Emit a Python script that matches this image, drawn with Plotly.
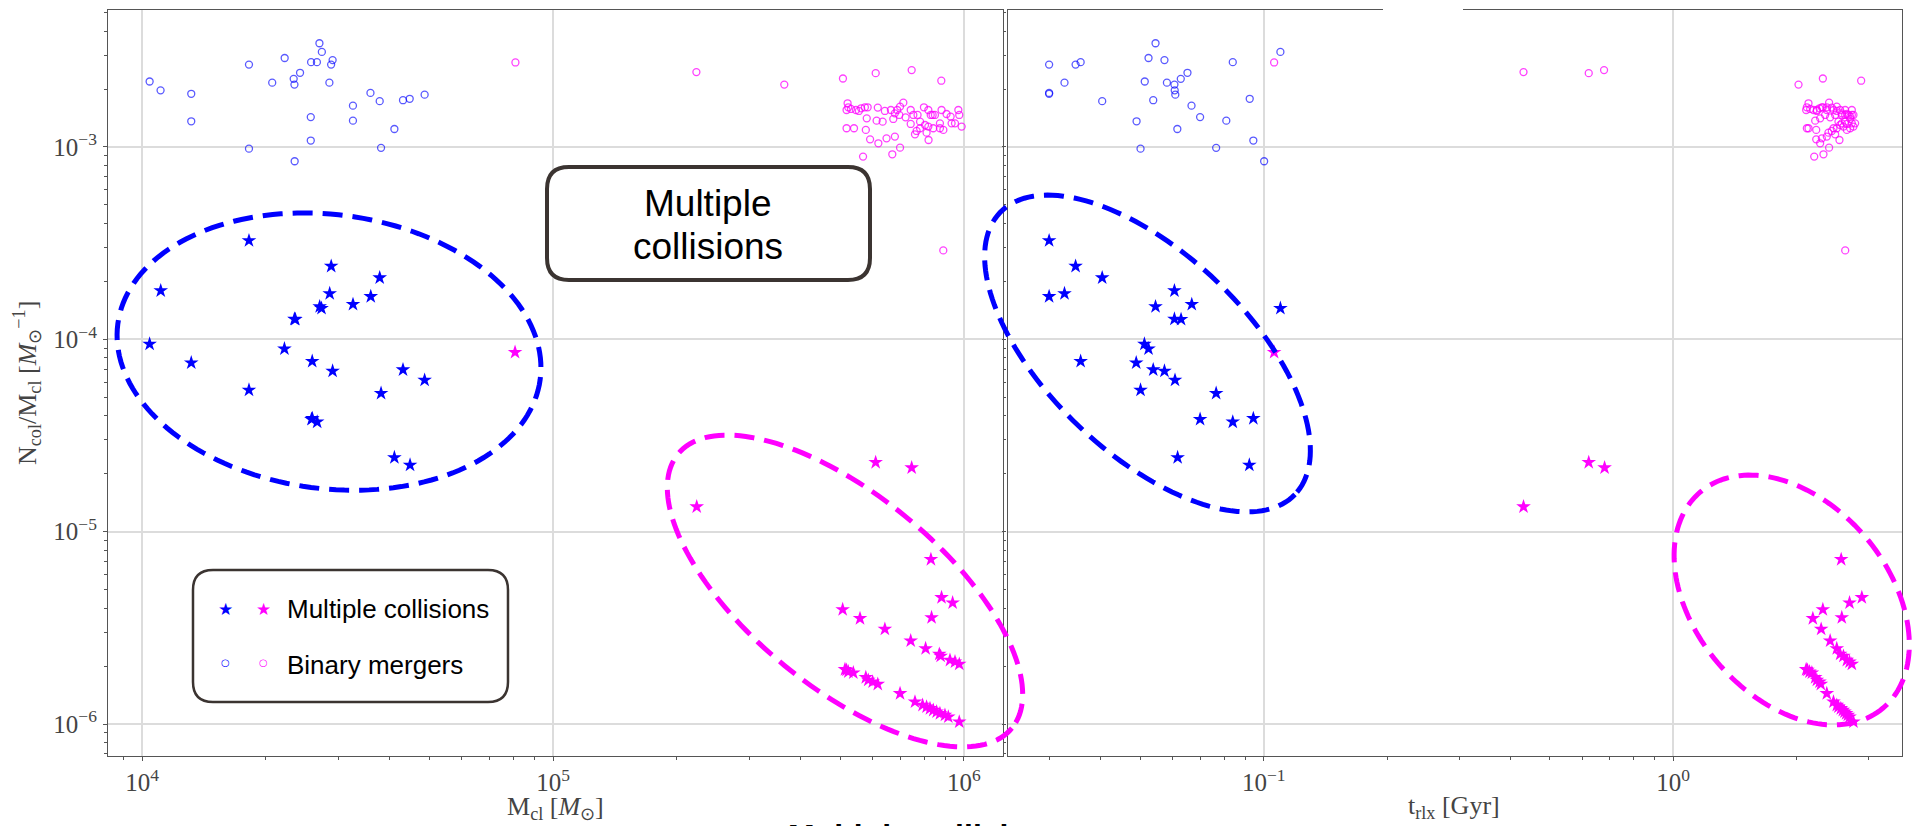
import numpy as np
import plotly.graph_objects as go

W, H = 1915, 826

# ---------------- data ----------------
# Blue clusters: binary mergers (open circles)
blue_circle_M = [10430, 11090, 13170, 13170, 18200, 18200, 22230, 20730, 23380, 23480,
                 24230, 23510, 27010, 27380, 25780, 26630, 29080, 28840, 28560, 25730,
                 25730, 32590, 32590, 35950, 37860, 38150, 41110, 43140, 44790, 48700]
blue_circle_N = [2.19e-3, 1.97e-3, 1.89e-3, 1.36e-3, 2.68e-3, 0.98e-3, 2.90e-3, 2.16e-3, 2.26e-3, 2.11e-3,
                 2.43e-3, 0.843e-3, 3.46e-3, 3.12e-3, 2.76e-3, 2.76e-3, 2.83e-3, 2.68e-3, 2.16e-3, 1.43e-3,
                 1.08e-3, 1.64e-3, 1.37e-3, 1.91e-3, 1.73e-3, 0.99e-3, 1.24e-3, 1.75e-3, 1.78e-3, 1.87e-3]
blue_circle_t = [0.0512, 0.0606, 0.0299, 0.0489, 0.0299, 0.0500, 0.0523, 0.0326, 0.0627, 0.0605,
                 0.0651, 0.1002, 0.0544, 0.1098, 0.0357, 0.0840, 0.0572, 0.0347, 0.0580, 0.0699,
                 0.0943, 0.0666, 0.0810, 0.0299, 0.0403, 0.0765, 0.0615, 0.0537, 0.0924, 0.0608]

# Blue clusters: multiple collisions (stars)
blue_star_M = [18200, 11100, 28850, 37860, 28610, 27050, 27330, 32600, 36010, 23480,
               23600, 10430, 13170, 22200, 25940, 29080, 43140, 48700, 18200, 38150,
               25830, 25950, 26670, 41110, 44880]
blue_star_N = [3.26e-4, 1.79e-4, 2.40e-4, 2.09e-4, 1.73e-4, 1.48e-4, 1.45e-4, 1.52e-4, 1.67e-4, 1.275e-4,
               1.27e-4, 9.45e-5, 7.55e-5, 8.93e-5, 7.69e-5, 6.84e-5, 6.95e-5, 6.14e-5, 5.45e-5, 5.24e-5,
               3.84e-5, 3.88e-5, 3.72e-5, 2.43e-5, 2.22e-5]
blue_star_t = [0.0299, 0.0605, 0.0347, 0.0403, 0.0326, 0.0544, 0.1098, 0.0667, 0.0299, 0.0605,
               0.0628, 0.0511, 0.0488, 0.0523, 0.0357, 0.0572, 0.0537, 0.0607, 0.0500, 0.0765,
               0.0699, 0.0943, 0.0840, 0.0616, 0.0922]

# Magenta clusters: binary mergers (open circles)
mag_circle_M = [81000, 223300, 365400, 507600, 609800, 746000, 880800, 890600, 568100, 669300,
                521000, 523000, 518000, 531000, 546000, 555000, 562000, 574000, 583000, 617000,
                642000, 664000, 679000, 688000, 699000, 712000, 696000, 721000, 742000, 753000,
                771000, 782000, 799000, 819000, 830000, 839000, 850000, 882000, 907000, 928000,
                969000, 974000, 951000, 987000, 580000, 613000, 634000, 673000, 742000, 819000,
                842000, 874000, 782000, 804000, 767000, 760000, 811000, 820000, 518000, 540000,
                577000, 591000, 619000, 648000, 679000, 699000, 874000, 891000, 933000]
mag_circle_N = [2.75e-3, 2.45e-3, 2.11e-3, 2.27e-3, 2.42e-3, 2.51e-3, 2.21e-3, 2.90e-4, 0.891e-3, 0.916e-3,
                1.687e-3, 1.608e-3, 1.557e-3, 1.576e-3, 1.557e-3, 1.539e-3, 1.589e-3, 1.608e-3, 1.608e-3, 1.602e-3,
                1.539e-3, 1.557e-3, 1.496e-3, 1.557e-3, 1.621e-3, 1.700e-3, 1.467e-3, 1.426e-3, 1.557e-3, 1.467e-3,
                1.467e-3, 1.354e-3, 1.608e-3, 1.557e-3, 1.467e-3, 1.467e-3, 1.467e-3, 1.557e-3, 1.484e-3, 1.438e-3,
                1.557e-3, 1.467e-3, 1.327e-3, 1.276e-3, 1.409e-3, 1.370e-3, 1.354e-3, 1.398e-3, 1.317e-3, 1.276e-3,
                1.251e-3, 1.251e-3, 1.251e-3, 1.301e-3, 1.211e-3, 1.164e-3, 1.187e-3, 1.087e-3, 1.251e-3, 1.251e-3,
                1.226e-3, 1.096e-3, 1.045e-3, 1.109e-3, 1.132e-3, 0.992e-3, 1.327e-3, 1.226e-3, 1.327e-3]
mag_circle_t = [0.106, 0.431, 2.024, 2.321, 0.622, 0.678, 2.879, 2.632, 2.211, 2.329,
                2.141, 2.121, 2.113, 2.161, 2.202, 2.244, 2.278, 2.321, 2.373, 2.441,
                2.510, 2.558, 2.582, 2.631, 2.510, 2.404, 2.487, 2.418, 2.732, 2.351,
                2.681, 2.534, 2.308, 2.244, 2.582, 2.631, 2.732, 2.464, 2.656, 2.706,
                2.373, 2.757, 2.582, 2.757, 2.286, 2.223, 2.631, 2.706, 2.656, 2.606,
                2.510, 2.706, 2.464, 2.558, 2.441, 2.487, 2.395, 2.548, 2.121, 2.141,
                2.236, 2.236, 2.286, 2.308, 2.373, 2.404, 2.732, 2.656, 2.783]

# Magenta clusters: multiple collisions (stars)
mag_star_M = [80830, 223700, 609700, 746000, 831000, 882000, 938500, 834000, 506800, 558500,
              642000, 742000, 806600, 871000, 877600, 924600, 951000, 974000, 513400, 523000,
              518000, 538000, 577000, 585000, 599500, 617000, 699000, 760000, 793000, 811000,
              826700, 842000, 858000, 874000, 899000, 916000, 974000]
mag_star_N = [8.56e-5, 1.348e-5, 2.292e-5, 2.150e-5, 7.175e-6, 4.55e-6, 4.27e-6, 3.58e-6, 3.94e-6, 3.54e-6,
              3.116e-6, 2.71e-6, 2.47e-6, 2.31e-6, 2.255e-6, 2.149e-6, 2.107e-6, 2.049e-6, 1.922e-6, 1.869e-6,
              1.907e-6, 1.847e-6, 1.747e-6, 1.692e-6, 1.658e-6, 1.612e-6, 1.442e-6, 1.305e-6, 1.254e-6, 1.229e-6,
              1.205e-6, 1.181e-6, 1.158e-6, 1.135e-6, 1.113e-6, 1.090e-6, 1.027e-6]
mag_star_t = [0.106, 0.431, 0.622, 0.680, 2.573, 2.890, 2.697, 2.582, 2.321, 2.194,
              2.299, 2.418, 2.510, 2.558, 2.606, 2.656, 2.697, 2.732, 2.113, 2.153,
              2.129, 2.182, 2.223, 2.244, 2.278, 2.295, 2.373, 2.464, 2.510, 2.534,
              2.568, 2.597, 2.621, 2.646, 2.671, 2.697, 2.757]

# tick values / labels
x1_tickvals = [1e4, 1e5, 1e6]
x1_ticktext = ["10<sup>4</sup>", "10<sup>5</sup>", "10<sup>6</sup>"]
x2_tickvals = [1e-1, 1e0]
x2_ticktext = ["10<sup>−1</sup>", "10<sup>0</sup>"]
y_tickvals = [1e-6, 1e-5, 1e-4, 1e-3]
y_ticktext = ["10<sup>−6</sup>", "10<sup>−5</sup>", "10<sup>−4</sup>", "10<sup>−3</sup>"]

BLUE = "#0000ff"
MAG = "#ff00ff"

# ---------------- figure ----------------
fig = go.Figure()

circle_style = dict(symbol="circle-open", size=7, line=dict(width=1.3))
star_style = dict(symbol="star", size=11, line=dict(width=0))

panels = [("x", "y", blue_circle_M, blue_star_M, mag_circle_M, mag_star_M),
          ("x2", "y2", blue_circle_t, blue_star_t, mag_circle_t, mag_star_t)]
for xa, ya, bcx, bsx, mcx, msx in panels:
    fig.add_trace(go.Scatter(x=bcx, y=blue_circle_N, mode="markers", xaxis=xa, yaxis=ya,
                             marker=dict(color="rgba(0,0,255,0.65)", **circle_style), showlegend=False))
    fig.add_trace(go.Scatter(x=mcx, y=mag_circle_N, mode="markers", xaxis=xa, yaxis=ya,
                             marker=dict(color="rgba(255,0,255,0.75)", **circle_style), showlegend=False))
    fig.add_trace(go.Scatter(x=bsx, y=blue_star_N, mode="markers", xaxis=xa, yaxis=ya,
                             marker=dict(color=BLUE, **star_style), showlegend=False))
    fig.add_trace(go.Scatter(x=msx, y=mag_star_N, mode="markers", xaxis=xa, yaxis=ya,
                             marker=dict(color=MAG, **star_style), showlegend=False))


def minor_vals(e0, e1):
    return [k * 10.0 ** e for e in range(e0, e1) for k in range(2, 10)]


AXCOL = "#555555"
common = dict(type="log", showline=True, linecolor=AXCOL, linewidth=1.2, mirror=True,
              showgrid=True, gridcolor="#dcdcdc", gridwidth=1.5, zeroline=False,
              ticks="outside", ticklen=4, tickwidth=1.1, tickcolor=AXCOL,
              tickfont=dict(family="Liberation Serif", size=25, color="#444444"),
              tickmode="array")


def minor(e0, e1):
    return dict(tickmode="array", tickvals=minor_vals(e0, e1), ticks="outside",
                ticklen=3, tickwidth=1, tickcolor=AXCOL, showgrid=False)


fig.update_layout(
    width=W, height=H, margin=dict(l=0, r=0, t=0, b=0),
    paper_bgcolor="white", plot_bgcolor="white", showlegend=False,
    xaxis=dict(domain=[108 / W, 1003 / W], range=[3.917, 6.095], anchor="y",
               tickvals=x1_tickvals, ticktext=x1_ticktext, minor=minor(3, 7), **common),
    yaxis=dict(domain=[70 / H, 816 / H], range=[-6.166, -2.288], anchor="x",
               tickvals=y_tickvals, ticktext=y_ticktext, ticklabelstandoff=1,
               minor=minor(-7, -2), **common),
    xaxis2=dict(domain=[1007.5 / W, 1902 / W], range=[-1.626, 0.559], anchor="y2",
                tickvals=x2_tickvals, ticktext=x2_ticktext, minor=minor(-2, 1), **common),
    yaxis2=dict(domain=[70 / H, 816 / H], range=[-6.166, -2.288], anchor="x2",
                tickvals=y_tickvals, ticktext=y_ticktext, showticklabels=False,
                minor=minor(-7, -2), **common),
)


# ---------------- decorations (pixel geometry -> paper coords) ----------------
def P(x, y):
    return f"{x / W:.5f},{1 - y / H:.5f}"


def ellipse_path(cx, cy, a, b, theta_deg, n=160):
    th = np.radians(theta_deg)
    t = np.linspace(0, 2 * np.pi, n, endpoint=False)
    ex = cx + a * np.cos(t) * np.cos(th) - b * np.sin(t) * np.sin(th)
    ey = cy + a * np.cos(t) * np.sin(th) + b * np.sin(t) * np.cos(th)
    return "M " + " L ".join(P(x, y) for x, y in zip(ex, ey)) + " Z"


def rounded_rect(x0, y0, x1, y1, r):
    return (f"M {P(x0 + r, y0)} L {P(x1 - r, y0)} Q {P(x1, y0)} {P(x1, y0 + r)} "
            f"L {P(x1, y1 - r)} Q {P(x1, y1)} {P(x1 - r, y1)} "
            f"L {P(x0 + r, y1)} Q {P(x0, y1)} {P(x0, y1 - r)} "
            f"L {P(x0, y0 + r)} Q {P(x0, y0)} {P(x0 + r, y0)} Z")


ellipses = [
    (329, 351.6, 213, 137, 7.5, BLUE),
    (845, 591, 216, 96, 39.4, MAG),
    (1147.5, 353.5, 204, 100, 43.7, BLUE),
    (1791.7, 600, 141.5, 97, 49.8, MAG),
]
shapes = []
for cx, cy, a, b, th, col in ellipses:
    shapes.append(dict(type="path", xref="paper", yref="paper", layer="above",
                       path=ellipse_path(cx, cy, a, b, th),
                       line=dict(color=col, width=5, dash="20px,10px")))

BOXCOL = "#3b3431"
shapes.append(dict(type="path", xref="paper", yref="paper", layer="above",
                   path=rounded_rect(547, 167, 870, 280, 22),
                   fillcolor="white", line=dict(color=BOXCOL, width=4)))
shapes.append(dict(type="path", xref="paper", yref="paper", layer="above",
                   path=rounded_rect(193, 570, 508, 702, 20),
                   fillcolor="white", line=dict(color=BOXCOL, width=2.5)))
# small white patch over the top frame of the right panel
shapes.append(dict(type="rect", xref="paper", yref="paper", layer="above",
                   x0=1383 / W, x1=1463 / W, y0=1 - 13 / H, y1=1 - 6 / H,
                   fillcolor="white", line=dict(width=0)))
fig.update_layout(shapes=shapes)


def ann(text, x, y, size, family="Liberation Sans", color="black", xanchor="center",
        yanchor="middle", textangle=0):
    return dict(text=text, x=x / W, y=1 - y / H, xref="paper", yref="paper",
                showarrow=False, xanchor=xanchor, yanchor=yanchor, textangle=textangle,
                borderpad=0, borderwidth=0,
                font=dict(family=family, size=size, color=color))


SERIF = "Liberation Serif"
annotations = [
    ann("Multiple", 708, 203, 37),
    ann("collisions", 708, 246, 37),
    # legend
    ann("★", 225, 609, 17, family="DejaVu Sans", color=BLUE),
    ann("★", 263.6, 609, 17, family="DejaVu Sans", color=MAG),
    ann("○", 225, 662, 10, family="DejaVu Sans", color=BLUE),
    ann("○", 263.6, 662, 10, family="DejaVu Sans", color=MAG),
    ann("Multiple collisions", 287, 609, 26, xanchor="left"),
    ann("Binary mergers", 287, 665, 26, xanchor="left"),
    # axis titles
    ann("M<sub>cl</sub> [<i>M</i><sub>⊙</sub>]", 555, 808, 26, family=SERIF, color="#444444"),
    ann("t<sub>rlx</sub> [Gyr]", 1454, 807, 26, family=SERIF, color="#444444"),
    ann("N<sub>col</sub>/M<sub>cl</sub> [<i>M</i><sub>⊙</sub><sup>−1</sup>]", 27, 383, 26,
        family=SERIF, color="#444444", textangle=-90),
    # cut-off caption at the bottom
    ann("<b>Multiple collisions</b>", 788, 817.5, 32, xanchor="left", yanchor="top"),
]
fig.update_layout(annotations=annotations)

fig.write_html("out.html")
